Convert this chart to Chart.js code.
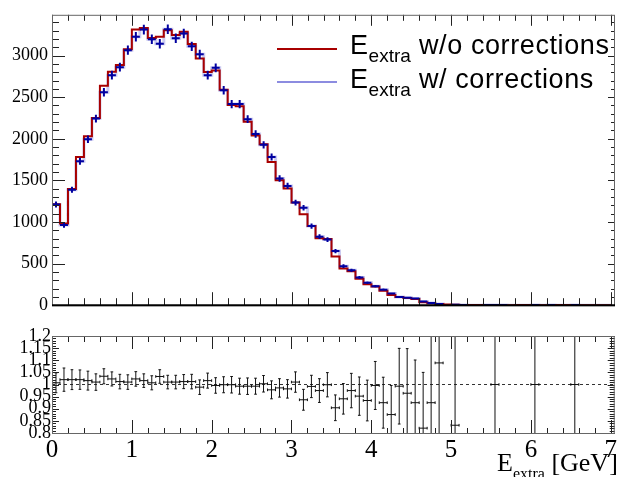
<!DOCTYPE html>
<html>
<head>
<meta charset="utf-8">
<script src="https://cdn.jsdelivr.net/npm/chart.js@4.4.1/dist/chart.umd.min.js"></script>
<style>
  body { margin: 0; width: 619px; height: 477px; overflow: hidden; position: relative; background: #fff; }
  canvas { position: absolute; left: 0; }
  #topPad { top: 0; }
  #ratioPad { top: 320px; }
  .legLine { position: absolute; height: 2px; width: 60px; left: 277px; }
  .legText { position: absolute; left: 350px; font-family: "Liberation Sans", Arial, sans-serif; font-size: 27px; line-height: 27px; letter-spacing: 0.6px; white-space: nowrap; color: #000; }
  .legText span { font-size: 19px; position: relative; top: 8px; letter-spacing: 0; }
  #xTitle { position: absolute; left: 497px; top: 450px; font-family: "Liberation Serif", serif; font-size: 26px; line-height: 26px; white-space: nowrap; color: #000; }
  #xTitle span { font-size: 16px; position: relative; top: 8px; }
</style>
</head>
<body>
<canvas id="topPad" width="619" height="320"></canvas>
<canvas id="ratioPad" width="619" height="157"></canvas>

<div class="legLine" style="top:48px;background:#a80000"></div>
<div class="legLine" style="top:81px;background:#8c8ce0"></div>
<div class="legText" style="top:32px">E<span>extra</span> w/o corrections</div>
<div class="legText" style="top:66px">E<span>extra</span> w/ corrections</div>
<div id="xTitle">E<span>extra</span> [GeV]</div>

<script>
// binning of E_extra, GeV
const binWidth = 0.1;
const xMax = 7.05;

// tick labels
const xTickLabels = [0, 1, 2, 3, 4, 5, 6, 7];
const countTickLabels = [0, 500, 1000, 1500, 2000, 2500, 3000];
const ratioTickLabels = [0.8, 0.85, 0.9, 0.95, 1, 1.05, 1.1, 1.15, 1.2];

// E_extra w/o corrections (red histogram), 70 bins from 0 to 7 GeV
const noCorr = [
  1213, 981, 1395, 1780, 2031, 2251, 2637, 2807, 2888, 3077,
  3312, 3331, 3210, 3227, 3304, 3247, 3285, 3139, 2965, 2803,
  2822, 2590, 2405, 2390, 2205, 2039, 1935, 1722, 1502, 1403,
  1233, 1094, 951, 804, 796, 584, 442, 409, 317, 252,
  226, 173, 124, 98, 86, 74, 36, 23, 14, 8,
  5, 0, 3, 2, 0, 1, 0, 0, 1, 1,
  1, 0, 0, 1, 1, 1, 0, 0, 0, 0
];

// E_extra w/ corrections (blue points) and their errors
const withCorr = [
  1210, 963, 1388, 1730, 1993, 2243, 2560, 2764, 2861, 3065,
  3227, 3312, 3197, 3142, 3316, 3208, 3266, 3111, 3015, 2764,
  2853, 2583, 2417, 2417, 2236, 2058, 1927, 1780, 1522, 1433,
  1233, 1171, 951, 824, 789, 650, 469, 419, 333, 270,
  229, 187, 141, 98, 90, 80, 44, 25, 13, 0,
  6, 3, 0, 0, 2, 1, 1, 0, 0, 0,
  1, 0, 1, 0, 0, 1, 0, 0, 0, 0
];
const withCorrErr = [
  35, 31, 37, 42, 45, 47, 51, 53, 53, 55,
  57, 58, 57, 56, 58, 57, 57, 56, 55, 53,
  53, 51, 49, 49, 47, 45, 44, 42, 39, 38,
  35, 34, 31, 29, 28, 25, 22, 20, 18, 16,
  15, 14, 12, 10, 9, 9, 7, 5, 4, 0,
  2, 2, 0, 0, 1, 1, 1, 0, 0, 0,
  1, 0, 1, 0, 0, 1, 0, 0, 0, 0
];

// ratio pad (w/o / w/) and its errors, null = no point
const ratio = [
  1.007, 1.02, 1.02, 1.02, 1.016, 1.01, 1.034, 1.023, 1.012, 1.01,
  1.023, 1.016, 1.007, 1.033, 1.01, 1.01, 1.012, 1.012, 0.989, 1.016,
  0.996, 0.999, 0.999, 0.993, 0.993, 0.993, 1.003, 0.978, 0.986, 0.982,
  1.01, 0.937, 0.992, 0.975, 0.999, 0.904, 0.941, 0.975, 0.952, 0.934,
  0.996, 0.925, 0.876, 0.993, 0.964, 0.925, 0.82, 0.925, 1.089, null,
  0.832, null, null, null, null, 1, null, null, null, null,
  1, null, null, null, null, 1, null, null, null, null
];
const ratioErr = [
  0.041, 0.048, 0.041, 0.04, 0.039, 0.034, 0.031, 0.029, 0.03, 0.03,
  0.03, 0.028, 0.029, 0.028, 0.028, 0.028, 0.029, 0.03, 0.03, 0.031,
  0.032, 0.033, 0.034, 0.033, 0.034, 0.033, 0.034, 0.037, 0.038, 0.038,
  0.042, 0.043, 0.046, 0.049, 0.05, 0.053, 0.063, 0.071, 0.079, 0.084,
  0.099, 0.105, 0.12, 0.156, 0.184, 0.176, 0.23, 0.4, 0.5, null,
  0.6, null, null, null, null, 1.4, null, null, null, null,
  1.4, null, null, null, null, 1.4, null, null, null, null
];

// histogram outline: one point per lower bin edge plus the last upper edge, stepped 'before'
function stepPoints(vals) {
  const pts = vals.map((v, i) => ({ x: i * binWidth, y: v }));
  pts.push({ x: vals.length * binWidth, y: vals[vals.length - 1] });
  return pts;
}

// error crosses as broken line segments (null y = gap)
function crossPoints(vals, errs, capX, capY) {
  const pts = [];
  vals.forEach((v, i) => {
    if (v === null || v === 0) return;
    const lo = i * binWidth, hi = lo + binWidth, c = lo + binWidth / 2, e = errs[i];
    pts.push({ x: lo, y: v }, { x: hi, y: v }, { x: hi, y: null });
    pts.push({ x: c, y: v - e }, { x: c, y: v + e }, { x: c, y: null });
    if (capX) {
      pts.push({ x: c - capX, y: v + e }, { x: c + capX, y: v + e }, { x: c, y: null });
      pts.push({ x: c - capX, y: v - e }, { x: c + capX, y: v - e }, { x: c, y: null });
      pts.push({ x: lo, y: v - capY }, { x: lo, y: v + capY }, { x: lo, y: null });
      pts.push({ x: hi, y: v - capY }, { x: hi, y: v + capY }, { x: hi, y: null });
    }
  });
  return pts;
}

function makeTicks(from, to, step, perMajor) {
  const out = [];
  for (let i = 0; from + i * step <= to + 1e-9; i++) {
    out.push({ v: from + i * step, major: i % perMajor === 0 });
  }
  return out;
}

// ROOT-like frame with inward ticks on all four sides
const rootFrame = {
  id: 'rootFrame',
  afterDraw(chart, args, o) {
    const { ctx, chartArea: a } = chart;
    const xs = chart.scales.x, ys = chart.scales.y;
    ctx.save();
    ctx.lineWidth = 1;
    ctx.strokeStyle = '#222';
    ctx.beginPath();
    o.xTicks.forEach(t => {
      const px = Math.round(xs.getPixelForValue(t.v)) + 0.5;
      ctx.moveTo(px, a.bottom); ctx.lineTo(px, a.bottom - (t.major ? o.len.bottom[0] : o.len.bottom[1]));
      ctx.moveTo(px, a.top); ctx.lineTo(px, a.top + (t.major ? o.len.top[0] : o.len.top[1]));
    });
    o.yTicks.forEach(t => {
      const py = Math.round(ys.getPixelForValue(t.v)) + 0.5;
      ctx.moveTo(a.left, py); ctx.lineTo(a.left + (t.major ? o.len.left[0] : o.len.left[1]), py);
      ctx.moveTo(a.right, py); ctx.lineTo(a.right - (t.major ? o.len.right[0] : o.len.right[1]), py);
    });
    ctx.stroke();
    ctx.strokeStyle = '#666';
    ctx.strokeRect(a.left + 0.5, a.top + 0.5, a.right - a.left - 1, a.bottom - a.top);
    if (o.thickBottom) {
      ctx.strokeStyle = '#000';
      ctx.lineWidth = 2;
      ctx.beginPath();
      ctx.moveTo(a.left, a.bottom); ctx.lineTo(a.right, a.bottom);
      ctx.stroke();
    }
    ctx.restore();
  }
};

const serif = 'Liberation Serif';
const plainLabel = v => String(v);

new Chart(document.getElementById('topPad'), {
  type: 'line',
  data: {
    datasets: [
      { data: crossPoints(withCorr, withCorrErr), borderColor: '#0000a0', borderWidth: 2, pointRadius: 0, order: 0 },
      { data: stepPoints(noCorr), stepped: 'before', borderColor: '#a80000', borderWidth: 2, pointRadius: 0, order: 1 },
      { data: stepPoints(withCorr), stepped: 'before', borderColor: 'rgba(140,140,224,0.45)', borderWidth: 3, pointRadius: 0, order: 2 }
    ]
  },
  options: {
    responsive: false,
    animation: false,
    layout: { autoPadding: false, padding: { top: 9, right: 4, left: 0, bottom: 0 } },
    plugins: {
      legend: { display: false },
      tooltip: { enabled: false },
      rootFrame: {
        xTicks: makeTicks(0, 7, 0.2, 5),
        yTicks: makeTicks(0, 3400, 100, 5),
        len: { bottom: [13, 7], top: [11, 6], left: [13, 7], right: [7, 4] },
        thickBottom: true
      }
    },
    scales: {
      x: {
        type: 'linear', min: 0, max: xMax,
        grid: { display: false }, border: { display: false },
        ticks: { display: false },
        afterFit(s) { s.height = 9; }
      },
      y: {
        min: 0, max: 3490,
        grid: { display: false, drawTicks: false }, border: { display: false },
        afterBuildTicks(s) { s.ticks = countTickLabels.map(v => ({ value: v })); },
        ticks: { autoSkip: false, padding: 4, color: '#000', font: { family: serif, size: 18 }, callback: plainLabel },
        afterFit(s) { s.width = 52; }
      }
    }
  },
  plugins: [rootFrame]
});

new Chart(document.getElementById('ratioPad'), {
  type: 'line',
  data: {
    datasets: [
      { data: crossPoints(ratio, ratioErr, 0.017, 0.0055), borderColor: '#111', borderWidth: 1, pointRadius: 0 },
      { data: [{ x: 0, y: 1 }, { x: xMax, y: 1 }], borderColor: '#333', borderWidth: 1, borderDash: [3, 3], pointRadius: 0 }
    ]
  },
  options: {
    responsive: false,
    animation: false,
    layout: { autoPadding: false, padding: { top: 16, right: 4, left: 0, bottom: 0 } },
    plugins: {
      legend: { display: false },
      tooltip: { enabled: false },
      rootFrame: {
        xTicks: makeTicks(0, 7, 0.2, 5),
        yTicks: makeTicks(0.8, 1.2, 0.01, 5),
        len: { bottom: [13, 5], top: [13, 6], left: [7, 4], right: [7, 5] }
      }
    },
    scales: {
      x: {
        type: 'linear', min: 0, max: xMax,
        grid: { display: false, drawTicks: false }, border: { display: false },
        afterBuildTicks(s) { s.ticks = xTickLabels.map(v => ({ value: v })); },
        ticks: { autoSkip: false, maxRotation: 0, padding: 2, color: '#000', font: { family: serif, size: 25 }, callback: plainLabel },
        afterFit(s) { s.height = 44; }
      },
      y: {
        min: 0.8, max: 1.2,
        grid: { display: false, drawTicks: false }, border: { display: false },
        afterBuildTicks(s) { s.ticks = ratioTickLabels.map(v => ({ value: v })); },
        ticks: { autoSkip: false, padding: 1, color: '#000', font: { family: serif, size: 18 }, callback: plainLabel },
        afterFit(s) { s.width = 52; }
      }
    }
  },
  plugins: [rootFrame]
});
</script>
</body>
</html>
